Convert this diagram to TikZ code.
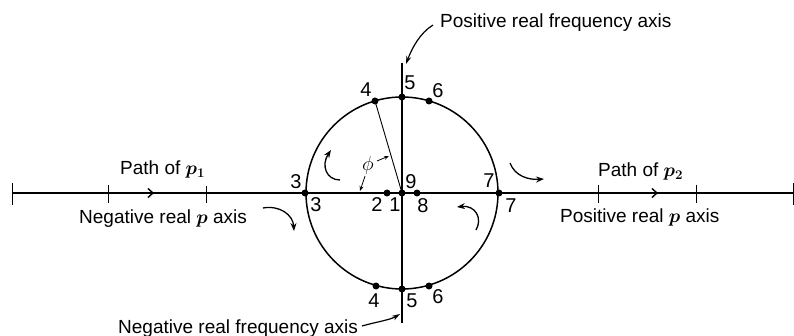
\documentclass[tikz,border=0pt]{standalone}
\usepackage{fix-cm}
\usepackage{fontspec}
\setmainfont{Liberation Sans}
\usetikzlibrary{arrows.meta}
\begin{document}
\begin{tikzpicture}[x=1pt,y=-1pt,
  axisline/.style={line width=1.7pt},
  circline/.style={line width=1.5pt},
  thinline/.style={line width=0.9pt},
  tickline/.style={line width=0.9pt},
  dotpt/.style={circle,fill=black,inner sep=0pt,minimum size=7pt},
  numlab/.style={font=\fontsize{20}{22}\selectfont,inner sep=0pt},
  txtlab/.style={font=\fontsize{19}{22}\selectfont\boldmath,inner sep=0pt,anchor=base west},
  curvearr/.style={line width=1.3pt,-{Stealth[length=8pt,width=6pt]}},
  smallarr/.style={line width=0.8pt,-{Stealth[length=5pt,width=4pt]}},
  barbarr/.style={line width=1.5pt,-{Straight Barb[length=5pt,width=9pt,line width=1.4pt]}}
]
\useasboundingbox (0,0) rectangle (794,336);

% axes
\coordinate (L) at (12,193);
\coordinate (R) at (793,193);
\coordinate (T) at (402,63);
\coordinate (B) at (402,323);
\coordinate (O) at (402,193);
\draw[axisline] (L) -- (R);
\draw[axisline] (T) -- (B);

% ticks
\foreach \tx/\ta/\tb in {12/183/205,108/185/203,206/186/203,598/185/203,696/185/203,793/183/205}
  \draw[tickline] (\tx,\ta) -- (\tx,\tb);

% path arrows on axis
\coordinate (pa1) at (138,193);
\coordinate (pb1) at (154,193);
\coordinate (pa2) at (642,193);
\coordinate (pb2) at (658,193);
\draw[barbarr] (pa1) -- (pb1);
\draw[barbarr] (pa2) -- (pb2);

% circle
\draw[circline] (O) circle (96pt);

% points
\node[dotpt] (c3) at (305,193) {};
\node[dotpt] (c2) at (387,193) {};
\node[dotpt] (c1) at (402,193) {};
\node[dotpt] (c8) at (417,193) {};
\node[dotpt] (c7) at (499,193) {};
\node[dotpt] (t4) at (375,101) {};
\node[dotpt] (t5) at (402,97) {};
\node[dotpt] (t6) at (429,101) {};
\node[dotpt] (b4) at (376,286) {};
\node[dotpt] (b5) at (402,289) {};
\node[dotpt] (b6) at (429,286) {};

% radial line
\draw[thinline] (t4.center) -- (c1.center);

% number labels
\node[numlab] (l3a) at (296,182) {3};
\node[numlab] (l3b) at (316,205) {3};
\node[numlab] (l2) at (377,205) {2};
\node[numlab] (l1) at (395,205) {1};
\node[numlab] (l9) at (411,182) {9};
\node[numlab] (l8) at (423,206) {8};
\node[numlab] (l7a) at (489,181) {7};
\node[numlab] (l7b) at (511,206) {7};
\node[numlab] (lt4) at (366,90) {4};
\node[numlab] (lt5) at (410,83) {5};
\node[numlab] (lt6) at (438,91) {6};
\node[numlab] (lb4) at (374,301) {4};
\node[numlab] (lb5) at (412,301) {5};
\node[numlab] (lb6) at (438,297) {6};

% phi
\node[inner sep=0pt,font=\fontsize{20}{22}\selectfont] (phi) at (368,166) {$\phi$};
\coordinate (ph1) at (377,161);
\coordinate (ph1e) at (389,156);
\coordinate (ph2) at (365,176);
\coordinate (ph2e) at (360,191);
\draw[smallarr] (ph1) -- (ph1e);
\draw[smallarr] (ph2) -- (ph2e);

% text labels
\node[txtlab] (pfa) at (440,28) {Positive real frequency axis};
\node[txtlab] (nfa) at (118,333) {Negative real frequency axis};
\node[txtlab] (pp1) at (120,175) {Path of $p_1$};
\node[txtlab] (nra) at (79,224) {Negative real $p$ axis};
\node[txtlab] (pp2) at (598,177) {Path of $p_2$};
\node[txtlab] (pra) at (560,223) {Positive real $p$ axis};

% label arrows
\coordinate (pfs) at (433,25);
\coordinate (pfe) at (406,64);
\draw[line width=1.2pt,-{Stealth[length=8pt,width=5pt]}] (pfs) .. controls (420,33) and (412,48) .. (pfe);
\coordinate (nfs) at (362,326);
\coordinate (nfe) at (400,314);
\draw[line width=1.2pt,-{Stealth[length=8pt,width=5pt]}] (nfs) .. controls (376,322) and (390,320) .. (nfe);

% rotation arrows
\coordinate (a1s) at (340,180);
\coordinate (a1e) at (331,150);
\draw[curvearr] (a1s) .. controls (326,180) and (321,165) .. (a1e);
\coordinate (a2s) at (263,208);
\coordinate (a2e) at (294,231);
\draw[curvearr] (a2s) .. controls (280,205) and (293,215) .. (a2e);
\coordinate (a3s) at (510,163);
\coordinate (a3e) at (544,179);
\draw[curvearr] (a3s) .. controls (515,176) and (528,180) .. (a3e);
\coordinate (a4s) at (476,230);
\coordinate (a4e) at (457,207);
\draw[curvearr] (a4s) .. controls (483,218) and (475,205) .. (a4e);
\end{tikzpicture}
\end{document}
